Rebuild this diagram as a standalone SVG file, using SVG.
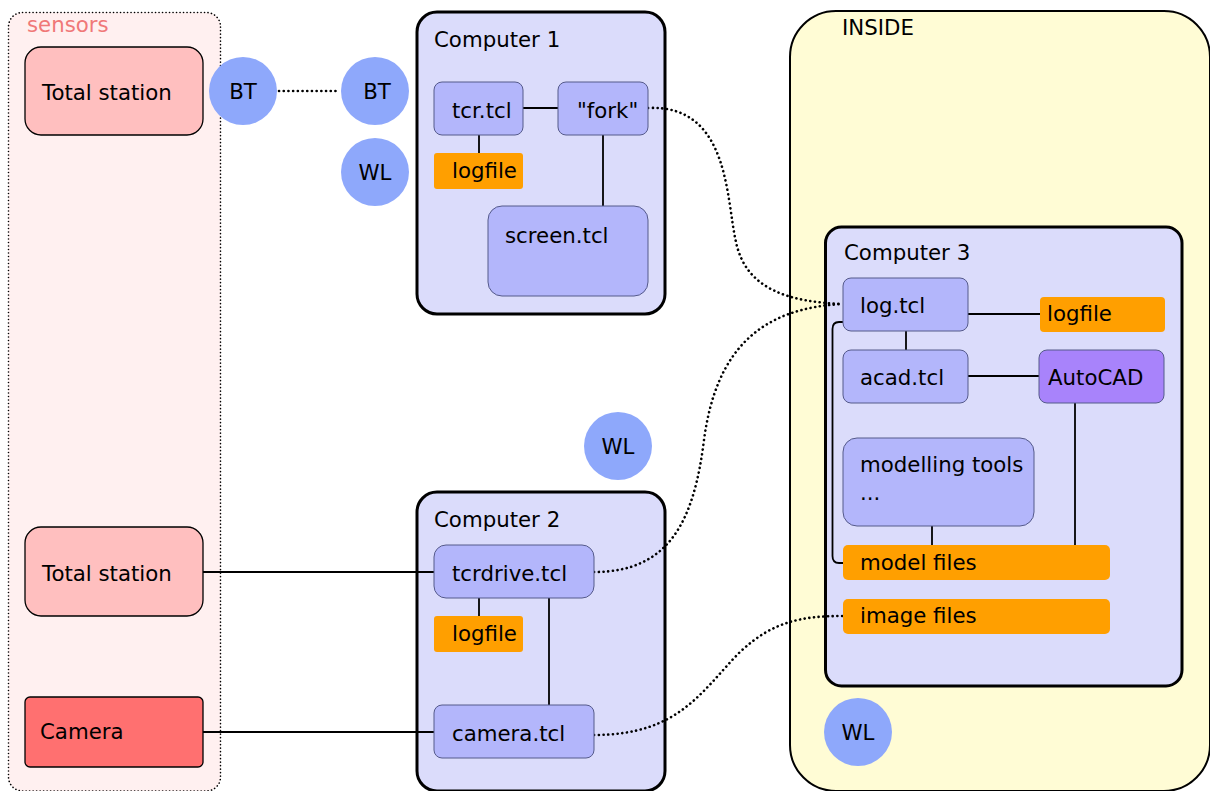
<svg xmlns="http://www.w3.org/2000/svg" width="1210" height="791" viewBox="0 0 1210 791">
<defs>
<style>
text{font-family:"DejaVu Sans","Liberation Sans",sans-serif;font-size:21.3px;fill:#000}
.prog{fill:#b3b6fb;stroke:#555a8a;stroke-width:1}
.file{fill:#ff9f00}
.comp{fill:#dbdcfb;stroke:#000;stroke-width:3}
.circ{fill:#8ea8fb}
.ln{fill:none;stroke:#000;stroke-width:1.8}
.dot{fill:none;stroke:#000;stroke-width:2.6;stroke-dasharray:0.1 4.6;stroke-linecap:round}
</style>
</defs>
<rect width="1210" height="791" fill="#fff"/>
<g id="sensors">
<rect x="8.5" y="12.5" width="212" height="778.5" rx="14" fill="#fff0f0" stroke="#000" stroke-width="1.6" stroke-dasharray="0.1 3.4" stroke-linecap="round"/>
<text x="27" y="32" style="fill:#f07878">sensors</text>
</g>
<g id="inside">
<rect x="790" y="11" width="420" height="780" rx="46" fill="#fffcd5" stroke="#000" stroke-width="2"/>
<text x="842" y="35">INSIDE</text>
</g>
<g id="computer1">
<rect class="comp" x="417" y="12" width="248" height="302" rx="20"/>
<text x="434" y="47">Computer 1</text>
</g>
<g id="computer2">
<rect class="comp" x="417" y="492" width="248" height="299" rx="20"/>
<text x="434" y="527">Computer 2</text>
</g>
<g id="computer3">
<rect class="comp" x="825.5" y="227" width="356.5" height="459" rx="16" stroke-width="3.5"/>
<text x="844" y="260">Computer 3</text>
</g>
<g id="connectors">
<line class="ln" x1="523" y1="108" x2="558" y2="108"/>
<line class="ln" x1="479" y1="135" x2="479" y2="153"/>
<line class="ln" x1="603" y1="135" x2="603" y2="206"/>
<line class="ln" x1="479" y1="598" x2="479" y2="616"/>
<line class="ln" x1="549" y1="598" x2="549" y2="705"/>
<line class="ln" x1="203" y1="572" x2="434" y2="572"/>
<line class="ln" x1="203" y1="732" x2="434" y2="732"/>
<line class="ln" x1="968" y1="314" x2="1040" y2="314"/>
<line class="ln" x1="906" y1="331" x2="906" y2="350"/>
<line class="ln" x1="968" y1="376" x2="1039" y2="376"/>
<line class="ln" x1="932" y1="526" x2="932" y2="545"/>
<line class="ln" x1="1075" y1="403" x2="1075" y2="545"/>
<path class="ln" d="M843,322 H839 Q832.5,322 832.5,329 V556 Q832.5,563 839,563 H843"/>
<line class="dot" x1="279" y1="91" x2="337" y2="91"/>
<path class="dot" d="M648,108 C730,104 726,200 736,242 C746,290 790,302 843,304"/>
<path class="dot" d="M594,572 C670,572 694,520 704,440 C716,350 760,308 843,304"/>
<path class="dot" d="M594,735 C680,735 702,690 740,652 C772,622 800,616 843,616"/>
</g>
<g id="total-station-1">
<rect x="25" y="47" width="178" height="88" rx="16" fill="#ffbfbf" stroke="#000" stroke-width="1.3"/>
<text x="42" y="100">Total station</text>
</g>
<g id="total-station-2">
<rect x="25" y="527" width="178" height="89" rx="16" fill="#ffbfbf" stroke="#000" stroke-width="1.3"/>
<text x="42" y="581">Total station</text>
</g>
<g id="camera">
<rect x="25" y="697" width="178" height="70" rx="5" fill="#ff7070" stroke="#000" stroke-width="1.3"/>
<text x="40" y="739">Camera</text>
</g>
<g id="bt1"><circle class="circ" cx="243" cy="91" r="34"/><text x="243" y="99" text-anchor="middle">BT</text></g>
<g id="bt2"><circle class="circ" cx="375" cy="91" r="34"/><text x="377" y="99" text-anchor="middle">BT</text></g>
<g id="wl1"><circle class="circ" cx="375" cy="172" r="34"/><text x="375" y="180" text-anchor="middle">WL</text></g>
<g id="wl2"><circle class="circ" cx="618" cy="446" r="34"/><text x="618" y="454" text-anchor="middle">WL</text></g>
<g id="wl3"><circle class="circ" cx="858" cy="732" r="34"/><text x="858" y="740" text-anchor="middle">WL</text></g>
<g id="tcr"><rect class="prog" x="434" y="82" width="89" height="53" rx="8"/><text x="452" y="118">tcr.tcl</text></g>
<g id="fork"><rect class="prog" x="558" y="82" width="90" height="53" rx="8"/><text x="577" y="118">"fork"</text></g>
<g id="logfile1"><rect class="file" x="434" y="153" width="89" height="36" rx="3"/><text x="452" y="178">logfile</text></g>
<g id="screen"><rect class="prog" x="488" y="206" width="160" height="90" rx="14"/><text x="505" y="243">screen.tcl</text></g>
<g id="tcrdrive"><rect class="prog" x="434" y="545" width="160" height="53" rx="12"/><text x="452" y="581">tcrdrive.tcl</text></g>
<g id="logfile2"><rect class="file" x="434" y="616" width="89" height="36" rx="3"/><text x="452" y="641">logfile</text></g>
<g id="cameratcl"><rect class="prog" x="434" y="705" width="160" height="53" rx="8"/><text x="452" y="741">camera.tcl</text></g>
<g id="logtcl"><rect class="prog" x="843" y="278" width="125" height="53" rx="8"/><text x="860" y="313">log.tcl</text></g>
<g id="logfile3"><rect class="file" x="1040" y="297" width="125" height="35" rx="4"/><text x="1047" y="321">logfile</text></g>
<g id="acad"><rect class="prog" x="843" y="350" width="125" height="53" rx="8"/><text x="860" y="385">acad.tcl</text></g>
<g id="autocad"><rect x="1039" y="350" width="125" height="53" rx="8" fill="#a883fb" stroke="#555a8a" stroke-width="1"/><text x="1048" y="385">AutoCAD</text></g>
<g id="modelling"><rect class="prog" x="843" y="438" width="191" height="88" rx="14"/><text x="860" y="472">modelling tools</text><text x="860" y="500">...</text></g>
<g id="modelfiles"><rect class="file" x="843" y="545" width="267" height="35" rx="5"/><text x="860" y="570">model files</text></g>
<g id="imagefiles"><rect class="file" x="843" y="599" width="267" height="35" rx="5"/><text x="860" y="623">image files</text></g>
</svg>
